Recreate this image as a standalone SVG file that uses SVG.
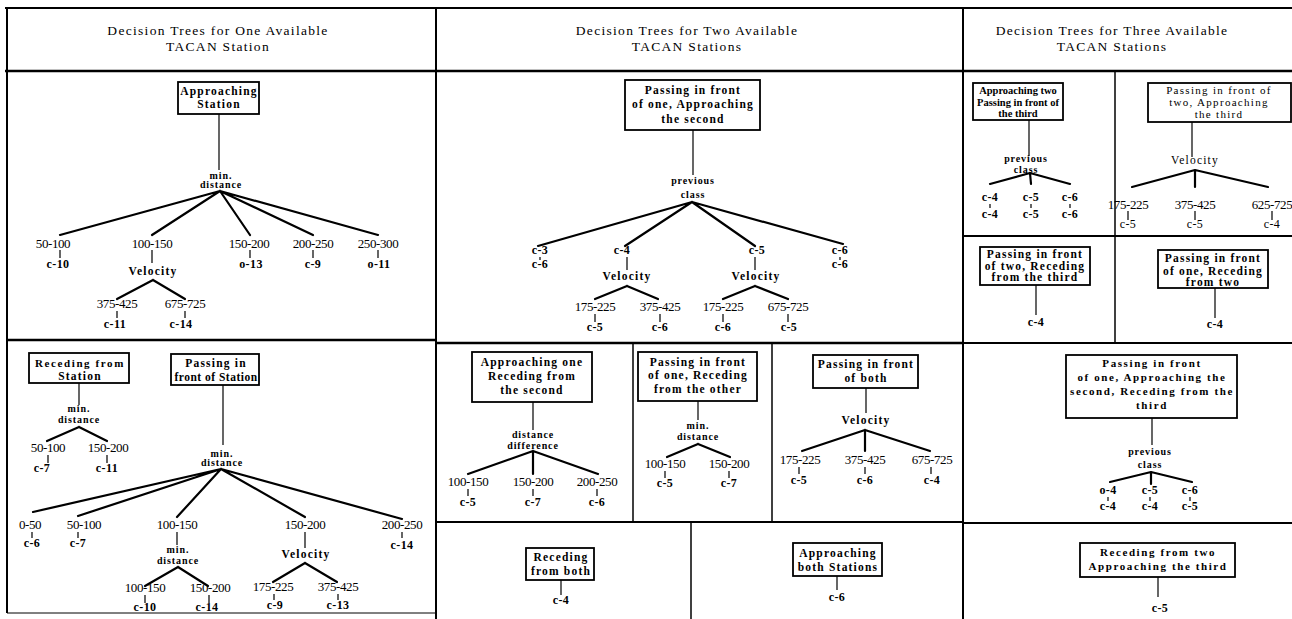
<svg xmlns="http://www.w3.org/2000/svg" width="1292" height="619" viewBox="0 0 1292 619">
<style>
text{font-family:"Liberation Serif","Times New Roman",serif;fill:#000;text-anchor:middle}
.hdr{font-size:13.5px;letter-spacing:1.3px}
.box{fill:#fff;stroke:#000;stroke-width:1.8}
.bt{font-size:11.5px;font-weight:bold;letter-spacing:1.2px}
.bt0{font-size:10.5px;font-weight:bold;letter-spacing:0px}
.bt2{font-size:11px;font-weight:bold;letter-spacing:1.6px}
.bt3{font-size:11px;font-weight:normal;letter-spacing:1.3px}
.at{font-size:10px;font-weight:bold;letter-spacing:0.9px}
.vel{font-size:11.5px;font-weight:bold;letter-spacing:1.2px}
.rng{font-size:13px;letter-spacing:-0.4px}
.lf{font-size:12px;font-weight:bold;letter-spacing:0.4px}
.grid line{stroke:#000;stroke-width:2}
.br{stroke:#000;stroke-width:2.2;fill:none;stroke-linecap:round}
.tk{stroke:#000;stroke-width:1.2;fill:none}
</style>
<rect x="0" y="0" width="1292" height="619" fill="#fff"/>
<g class="grid" id="frame">
<line x1="5" y1="8" x2="1292" y2="8"/>
<line x1="5" y1="71" x2="1292" y2="71" style="stroke-width:2.5"/>
<line x1="7" y1="8" x2="7" y2="613"/>
<line x1="436" y1="8" x2="436" y2="619"/>
<line x1="963" y1="8" x2="963" y2="619"/>
<line x1="7" y1="340" x2="436" y2="340" style="stroke-width:2.5"/>
<line x1="7" y1="613" x2="436" y2="613" style="stroke-width:1"/>
<line x1="436" y1="343" x2="963" y2="343" style="stroke-width:2.5"/>
<line x1="633" y1="343" x2="633" y2="522" style="stroke-width:1.5"/>
<line x1="772" y1="343" x2="772" y2="522" style="stroke-width:1.5"/>
<line x1="436" y1="522" x2="963" y2="522"/>
<line x1="691" y1="522" x2="691" y2="619" style="stroke-width:1.5"/>
<line x1="1115" y1="71" x2="1115" y2="343" style="stroke-width:1.5"/>
<line x1="963" y1="236" x2="1292" y2="236"/>
<line x1="963" y1="343" x2="1292" y2="343"/>
<line x1="963" y1="523" x2="1292" y2="523"/>
</g>
<g id="headers">
<text class="hdr" x="218" y="35">Decision Trees for One Available</text>
<text class="hdr" x="218" y="51">TACAN Station</text>
<text class="hdr" x="687" y="35">Decision Trees for Two Available</text>
<text class="hdr" x="687" y="51">TACAN Stations</text>
<text class="hdr" x="1112" y="35">Decision Trees for Three Available</text>
<text class="hdr" x="1112" y="51">TACAN Stations</text>
</g>
<g id="connectors">
<path class="tk" d="M219 114V170"/>
<path class="br" d="M220 191L60 235M220 191L152 235M220 191L250 235M220 191L313 235M220 191L378 235"/>
<path class="tk" d="M60 250V258M152 250V263M250 250V258M313 250V258M378 250V258"/>
<path class="br" d="M153 280L117 299M153 280L185 299"/>
<path class="tk" d="M117 311V318M185 311V318"/>
<path class="tk" d="M79 383V405"/>
<path class="br" d="M79 427L47 441M79 427L107 441"/>
<path class="tk" d="M48 455V463M107 455V463"/>
<path class="tk" d="M223 385V445"/>
<path class="br" d="M221 469L33 512M221 469L78 516M221 469L177 517M221 469L305 517M221 469L402 519"/>
<path class="tk" d="M32 532V538M78 532V538M177 532V545M305 532V548M402 532V538"/>
<path class="br" d="M178 567L145 586M178 567L208 586"/>
<path class="tk" d="M145 595V603M209 595V603"/>
<path class="br" d="M305 563L273 582M305 563L337 582"/>
<path class="tk" d="M274 594V600M338 594V600"/>
<path class="tk" d="M693 130V175"/>
<path class="br" d="M692 202L538 246M692 202L625 246M692 202L755 246M692 202L843 244"/>
<path class="tk" d="M540 257V260M627 257V270M755 257V270M840 257V260"/>
<path class="br" d="M627 286L595 299M627 286L658 299"/>
<path class="tk" d="M595 314V322M660 314V322"/>
<path class="br" d="M755 286L723 299M755 286L788 299"/>
<path class="tk" d="M723 314V322M788 314V322"/>
<path class="tk" d="M533 402V430"/>
<path class="br" d="M533 451L468 474M533 451L533 474M533 451L598 474"/>
<path class="tk" d="M468 489V496M533 489V496M597 489V496"/>
<path class="tk" d="M698 401V420"/>
<path class="br" d="M698 444L667 457M698 444L730 457"/>
<path class="tk" d="M665 471V478M729 471V478"/>
<path class="tk" d="M866 388V413"/>
<path class="br" d="M865 430L802 451M865 430L865 451M865 430L930 451"/>
<path class="tk" d="M799 467V474M865 467V474M931 467V474"/>
<path class="tk" d="M561 580V595"/>
<path class="tk" d="M837 576V590"/>
<path class="tk" d="M1029 120V156"/>
<path class="br" d="M1030 173L990 184M1030 173L1031 184M1030 173L1070 184"/>
<path class="tk" d="M990 204V208M1031 204V208M1070 204V208"/>
<path class="tk" d="M1192 122V157"/>
<path class="br" d="M1195 170L1132 187M1195 170L1195 187M1195 170L1268 187"/>
<path class="tk" d="M1128 211V220M1195 211V220M1272 211V220"/>
<path class="tk" d="M1036 285V315"/>
<path class="tk" d="M1215 288V318"/>
<path class="tk" d="M1152 418V445"/>
<path class="br" d="M1151 472L1110 482M1151 472L1151 484M1151 472L1192 482"/>
<path class="tk" d="M1108 497V501M1150 497V501M1190 497V501"/>
<path class="tk" d="M1158 577V597"/>
</g>
<g id="n-approaching-station"><rect class="box" x="178" y="82" width="81" height="32"/><text class="bt" x="219" y="95">Approaching</text><text class="bt" x="219" y="108">Station</text></g>
<g id="n-lt-mindist"><text class="at" x="221" y="179">min.</text><text class="at" x="221" y="188">distance</text></g>
<g id="n-lt-50"><text class="rng" x="53" y="248">50-100</text><text class="lf" x="58" y="268">c-10</text></g>
<g id="n-lt-100"><text class="rng" x="152" y="248">100-150</text><text class="vel" x="153" y="275">Velocity</text></g>
<g id="n-lt-150"><text class="rng" x="249" y="248">150-200</text><text class="lf" x="251" y="268">o-13</text></g>
<g id="n-lt-200"><text class="rng" x="313" y="248">200-250</text><text class="lf" x="313" y="268">c-9</text></g>
<g id="n-lt-250"><text class="rng" x="378" y="248">250-300</text><text class="lf" x="379" y="268">o-11</text></g>
<g id="n-lt-375"><text class="rng" x="117" y="308">375-425</text><text class="lf" x="115" y="328">c-11</text></g>
<g id="n-lt-675"><text class="rng" x="185" y="308">675-725</text><text class="lf" x="181" y="328">c-14</text></g>
<g id="n-receding-station"><rect class="box" x="29" y="353" width="100" height="30"/><text class="bt2" x="80" y="367">Receding from</text><text class="bt" x="80" y="380">Station</text></g>
<g id="n-lb1-mindist"><text class="at" x="79" y="412">min.</text><text class="at" x="79" y="423">distance</text></g>
<g id="n-lb1-50"><text class="rng" x="48" y="452">50-100</text><text class="lf" x="42" y="472">c-7</text></g>
<g id="n-lb1-150"><text class="rng" x="108" y="452">150-200</text><text class="lf" x="107" y="472">c-11</text></g>
<g id="n-passing-station"><rect class="box" x="171" y="354" width="88" height="31"/><text class="bt" x="216" y="367">Passing in</text><text class="bt" x="216" y="381" style="letter-spacing:0.5px">front of Station</text></g>
<g id="n-lb2-mindist"><text class="at" x="222" y="457">min.</text><text class="at" x="222" y="466">distance</text></g>
<g id="n-lb2-0"><text class="rng" x="30" y="529">0-50</text><text class="lf" x="32" y="547">c-6</text></g>
<g id="n-lb2-50"><text class="rng" x="84" y="529">50-100</text><text class="lf" x="78" y="547">c-7</text></g>
<g id="n-lb2-100"><text class="rng" x="177" y="529">100-150</text><text class="at" x="178" y="553">min.</text><text class="at" x="178" y="564">distance</text></g>
<g id="n-lb2-150"><text class="rng" x="305" y="529">150-200</text><text class="vel" x="306" y="558">Velocity</text></g>
<g id="n-lb2-200"><text class="rng" x="402" y="529">200-250</text><text class="lf" x="402" y="549">c-14</text></g>
<g id="n-lb2-100b"><text class="rng" x="145" y="592">100-150</text><text class="lf" x="145" y="611">c-10</text></g>
<g id="n-lb2-150b"><text class="rng" x="210" y="592">150-200</text><text class="lf" x="207" y="611">c-14</text></g>
<g id="n-lb2-175"><text class="rng" x="273" y="591">175-225</text><text class="lf" x="275" y="609">c-9</text></g>
<g id="n-lb2-375"><text class="rng" x="338" y="591">375-425</text><text class="lf" x="338" y="609">c-13</text></g>
<g id="n-pass-one-appr-second"><rect class="box" x="625" y="80" width="135" height="50"/><text class="bt" x="693" y="94">Passing in front</text><text class="bt" x="693" y="108">of one, Approaching</text><text class="bt" x="693" y="123">the second</text></g>
<g id="n-mt-prev"><text class="at" x="693" y="184">previous</text><text class="at" x="693" y="198">class</text></g>
<g id="n-mt-c3"><text class="lf" x="540" y="254">c-3</text><text class="lf" x="540" y="268">c-6</text></g>
<g id="n-mt-c4"><text class="lf" x="622" y="254">c-4</text><text class="vel" x="627" y="280">Velocity</text></g>
<g id="n-mt-c5"><text class="lf" x="757" y="254">c-5</text><text class="vel" x="756" y="280">Velocity</text></g>
<g id="n-mt-c6"><text class="lf" x="840" y="254">c-6</text><text class="lf" x="840" y="268">c-6</text></g>
<g id="n-mt-175a"><text class="rng" x="595" y="311">175-225</text><text class="lf" x="595" y="331">c-5</text></g>
<g id="n-mt-375"><text class="rng" x="660" y="311">375-425</text><text class="lf" x="660" y="331">c-6</text></g>
<g id="n-mt-175b"><text class="rng" x="723" y="311">175-225</text><text class="lf" x="723" y="331">c-6</text></g>
<g id="n-mt-675"><text class="rng" x="788" y="311">675-725</text><text class="lf" x="789" y="331">c-5</text></g>
<g id="n-appr-one-rec-second"><rect class="box" x="472" y="352" width="120" height="50"/><text class="bt" x="532" y="366">Approaching one</text><text class="bt" x="532" y="380">Receding from</text><text class="bt" x="532" y="394">the second</text></g>
<g id="n-m2-dist"><text class="at" x="533" y="438">distance</text><text class="at" x="533" y="449">difference</text></g>
<g id="n-m2-100"><text class="rng" x="468" y="486">100-150</text><text class="lf" x="468" y="506">c-5</text></g>
<g id="n-m2-150"><text class="rng" x="533" y="486">150-200</text><text class="lf" x="533" y="506">c-7</text></g>
<g id="n-m2-200"><text class="rng" x="597" y="486">200-250</text><text class="lf" x="597" y="506">c-6</text></g>
<g id="n-pass-one-rec-other"><rect class="box" x="638" y="352" width="119" height="49"/><text class="bt" x="698" y="366">Passing in front</text><text class="bt" x="698" y="379">of one, Receding</text><text class="bt" x="698" y="393">from the other</text></g>
<g id="n-m3-mindist"><text class="at" x="698" y="429">min.</text><text class="at" x="698" y="440">distance</text></g>
<g id="n-m3-100"><text class="rng" x="665" y="468">100-150</text><text class="lf" x="665" y="487">c-5</text></g>
<g id="n-m3-150"><text class="rng" x="729" y="468">150-200</text><text class="lf" x="729" y="487">c-7</text></g>
<g id="n-pass-both"><rect class="box" x="813" y="355" width="105" height="33"/><text class="bt" x="866" y="368">Passing in front</text><text class="bt" x="866" y="382">of both</text></g>
<g id="n-m4-vel"><text class="vel" x="866" y="424">Velocity</text></g>
<g id="n-m4-175"><text class="rng" x="800" y="464">175-225</text><text class="lf" x="799" y="484">c-5</text></g>
<g id="n-m4-375"><text class="rng" x="865" y="464">375-425</text><text class="lf" x="865" y="484">c-6</text></g>
<g id="n-m4-675"><text class="rng" x="932" y="464">675-725</text><text class="lf" x="932" y="484">c-4</text></g>
<g id="n-rec-both"><rect class="box" x="526" y="548" width="68" height="32"/><text class="bt" x="561" y="561">Receding</text><text class="bt" x="561" y="575">from both</text><text class="lf" x="561" y="604">c-4</text></g>
<g id="n-appr-both"><rect class="box" x="793" y="543" width="89" height="33"/><text class="bt" x="838" y="557">Approaching</text><text class="bt" x="838" y="571">both Stations</text><text class="lf" x="837" y="601">c-6</text></g>
<g id="n-appr-two-pass-third"><rect class="box" x="973" y="83" width="90" height="37"/><text class="bt0" x="1018" y="94">Approaching two</text><text class="bt0" x="1018" y="106">Passing in front of</text><text class="bt0" x="1018" y="117">the third</text></g>
<g id="n-r1-prev"><text class="at" x="1026" y="162">previous</text><text class="at" x="1026" y="173">class</text></g>
<g id="n-r1-c4"><text class="lf" x="990" y="201">c-4</text><text class="lf" x="990" y="218">c-4</text></g>
<g id="n-r1-c5"><text class="lf" x="1031" y="201">c-5</text><text class="lf" x="1031" y="218">c-5</text></g>
<g id="n-r1-c6"><text class="lf" x="1070" y="201">c-6</text><text class="lf" x="1070" y="218">c-6</text></g>
<g id="n-pass-two-appr-third"><rect class="box" x="1148" y="83" width="143" height="39"/><text class="bt3" x="1219" y="94">Passing in front of</text><text class="bt3" x="1219" y="106">two, Approaching</text><text class="bt3" x="1219" y="118">the third</text></g>
<g id="n-r2-vel"><text class="vel" x="1195" y="164" style="font-weight:normal">Velocity</text></g>
<g id="n-r2-175"><text class="rng" x="1128" y="209">175-225</text><text class="lf" x="1128" y="228" style="font-weight:normal">c-5</text></g>
<g id="n-r2-375"><text class="rng" x="1195" y="209">375-425</text><text class="lf" x="1195" y="228" style="font-weight:normal">c-5</text></g>
<g id="n-r2-625"><text class="rng" x="1272" y="209">625-725</text><text class="lf" x="1272" y="228" style="font-weight:normal">c-4</text></g>
<g id="n-pass-two-rec-third"><rect class="box" x="980" y="247" width="110" height="38"/><text class="bt" x="1035" y="258">Passing in front</text><text class="bt" x="1035" y="270">of two, Receding</text><text class="bt" x="1035" y="281">from the third</text><text class="lf" x="1036" y="326">c-4</text></g>
<g id="n-pass-one-rec-two"><rect class="box" x="1158" y="250" width="110" height="38"/><text class="bt" x="1213" y="262">Passing in front</text><text class="bt" x="1213" y="275">of one, Receding</text><text class="bt" x="1213" y="286">from two</text><text class="lf" x="1215" y="328">c-4</text></g>
<g id="n-pass-appr-rec"><rect class="box" x="1066" y="355" width="171" height="63"/><text class="bt2" x="1152" y="367">Passing in front</text><text class="bt2" x="1152" y="381">of one, Approaching the</text><text class="bt2" x="1152" y="395">second, Receding from the</text><text class="bt2" x="1152" y="409">third</text></g>
<g id="n-r4-prev"><text class="at" x="1150" y="455">previous</text><text class="at" x="1150" y="468">class</text></g>
<g id="n-r4-c4"><text class="lf" x="1108" y="494">o-4</text><text class="lf" x="1108" y="510">c-4</text></g>
<g id="n-r4-c5"><text class="lf" x="1150" y="494">c-5</text><text class="lf" x="1150" y="510">c-4</text></g>
<g id="n-r4-c6"><text class="lf" x="1190" y="494">c-6</text><text class="lf" x="1190" y="510">c-5</text></g>
<g id="n-rec-two-appr-third"><rect class="box" x="1080" y="543" width="155" height="34"/><text class="bt2" x="1158" y="556">Receding from two</text><text class="bt2" x="1158" y="570">Approaching the third</text><text class="lf" x="1160" y="612">c-5</text></g>
</svg>
